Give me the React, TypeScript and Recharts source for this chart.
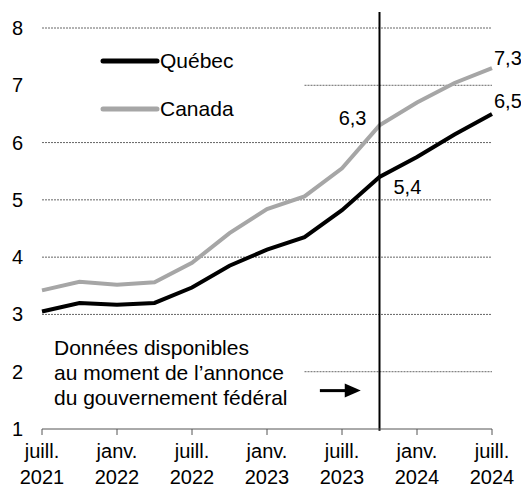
import React from 'react';
import {
  LineChart,
  Line,
  XAxis,
  YAxis,
  ReferenceLine
} from 'recharts';

// trimestres, de juill. 2021 à juill. 2024
const periods = [
  'juill. 2021', 'oct. 2021', 'janv. 2022', 'avr. 2022', 'juill. 2022', 'oct. 2022',
  'janv. 2023', 'avr. 2023', 'juill. 2023', 'oct. 2023', 'janv. 2024', 'avr. 2024', 'juill. 2024'
];
const quebec = [3.05, 3.2, 3.17, 3.2, 3.47, 3.85, 4.13, 4.35, 4.82, 5.4, 5.75, 6.14, 6.5];
const canada = [3.42, 3.57, 3.52, 3.56, 3.9, 4.42, 4.84, 5.06, 5.55, 6.3, 6.7, 7.04, 7.3];

const tickMonths = ['juill.', 'janv.', 'juill.', 'janv.', 'juill.', 'janv.', 'juill.'];
const tickYears = ['2021', '2022', '2022', '2023', '2023', '2024', '2024'];
const xTicks = [0, 2, 4, 6, 8, 10, 12];
const yTicks = [1, 2, 3, 4, 5, 6, 7, 8];
const fullGrid = [3, 4, 5, 6, 8];
const partialGrid = [2, 7];

const annonceIndex = 9;
const noteLines = ['Données disponibles', 'au moment de l’annonce', 'du gouvernement fédéral'];

const data = periods.map((p, i) => ({ i, period: p, quebec: quebec[i], canada: canada[i] }));

const FONT = 'Arial, "Liberation Sans", sans-serif';
const GREY = '#A6A6A6';

const fmt = (v: number) => v.toFixed(1).replace('.', ',');

const XTick = (props: any) => {
  const { x, y, payload } = props;
  const k = xTicks.indexOf(payload.value);
  return (
    <text x={x} textAnchor="middle" fontFamily={FONT} fontSize={20} fill="#000">
      <tspan x={x} y={y + 21}>{tickMonths[k]}</tspan>
      <tspan x={x} y={y + 47}>{tickYears[k]}</tspan>
    </text>
  );
};

const YTick = (props: any) => {
  const { y, payload } = props;
  return (
    <text x={23} y={y + 7} textAnchor="end" fontFamily={FONT} fontSize={20} fill="#000">
      {payload.value}
    </text>
  );
};

const makeLabel = (offsets: Record<number, [number, number, 'start' | 'end']>) => (props: any) => {
  const { x, y, value, index } = props;
  const o = offsets[index];
  if (!o) return null;
  return (
    <text x={x + o[0]} y={y + o[1]} textAnchor={o[2]} fontFamily={FONT} fontSize={20} fill="#000">
      {fmt(value)}
    </text>
  );
};

const canadaLabel = makeLabel({ 9: [-13, 0, 'end'], 12: [2, -3, 'start'] });
const quebecLabel = makeLabel({ 9: [14, 17, 'start'], 12: [2, -6, 'start'] });

const Arrow = (props: any) => {
  const { x1, y1, x2, y2 } = props;
  return (
    <g>
      <line x1={x1} y1={y1} x2={x2 - 12} y2={y2} stroke="#000" strokeWidth={3} />
      <polygon points={`${x2 - 16},${y2 - 7} ${x2},${y2} ${x2 - 16},${y2 + 7}`} fill="#000" />
    </g>
  );
};

export default function App() {
  return (
    <div style={{ position: 'absolute', left: 0, top: 0, width: 521, height: 487, background: '#fff' }}>
      <LineChart
        width={521}
        height={487}
        data={data}
        margin={{ top: 28, right: 29, bottom: 0, left: 0 }}
      >
        <XAxis
          type="number"
          dataKey="i"
          domain={[0, 12]}
          ticks={xTicks}
          tick={<XTick />}
          tickSize={6}
          height={58}
          axisLine={{ stroke: '#555' }}
          tickLine={{ stroke: '#555' }}
          interval={0}
        />
        <YAxis
          domain={[1, 8]}
          ticks={yTicks}
          tick={<YTick />}
          axisLine={false}
          tickLine={false}
          width={42}
          interval={0}
        />
        {fullGrid.map((v) => (
          <ReferenceLine key={v} y={v} stroke="#666" strokeDasharray="2 1" />
        ))}
        {partialGrid.map((v) => (
          <ReferenceLine
            key={v}
            segment={[{ x: 7, y: v }, { x: 12, y: v }]}
            stroke="#666"
            strokeDasharray="2 1"
          />
        ))}
        <ReferenceLine
          segment={[{ x: 7.41, y: 1.67 }, { x: 8.5, y: 1.67 }]}
          shape={<Arrow />}
        />
        <Line
          dataKey="canada"
          stroke={GREY}
          strokeWidth={4}
          dot={false}
          isAnimationActive={false}
          label={canadaLabel}
        />
        <Line
          dataKey="quebec"
          stroke="#000"
          strokeWidth={4}
          dot={false}
          isAnimationActive={false}
          label={quebecLabel}
        />
        <ReferenceLine
          segment={[{ x: annonceIndex, y: 0.97 }, { x: annonceIndex, y: 8.28 }]}
          stroke="#000"
          strokeWidth={2}
          ifOverflow="visible"
        />
      </LineChart>
      <svg
        width={521}
        height={487}
        style={{ position: 'absolute', left: 0, top: 0, pointerEvents: 'none' }}
      >
        <line x1={103} y1={61} x2={157} y2={61} stroke="#000" strokeWidth={5} strokeLinecap="round" />
        <text x={160} y={68} fontFamily={FONT} fontSize={21} fill="#000">Québec</text>
        <line x1={103} y1={109} x2={157} y2={109} stroke={GREY} strokeWidth={5} strokeLinecap="round" />
        <text x={160} y={116} fontFamily={FONT} fontSize={21} fill="#000">Canada</text>
        {noteLines.map((t, k) => (
          <text key={k} x={54} y={355 + k * 25} fontFamily={FONT} fontSize={21} fill="#000">
            {t}
          </text>
        ))}
      </svg>
    </div>
  );
}
